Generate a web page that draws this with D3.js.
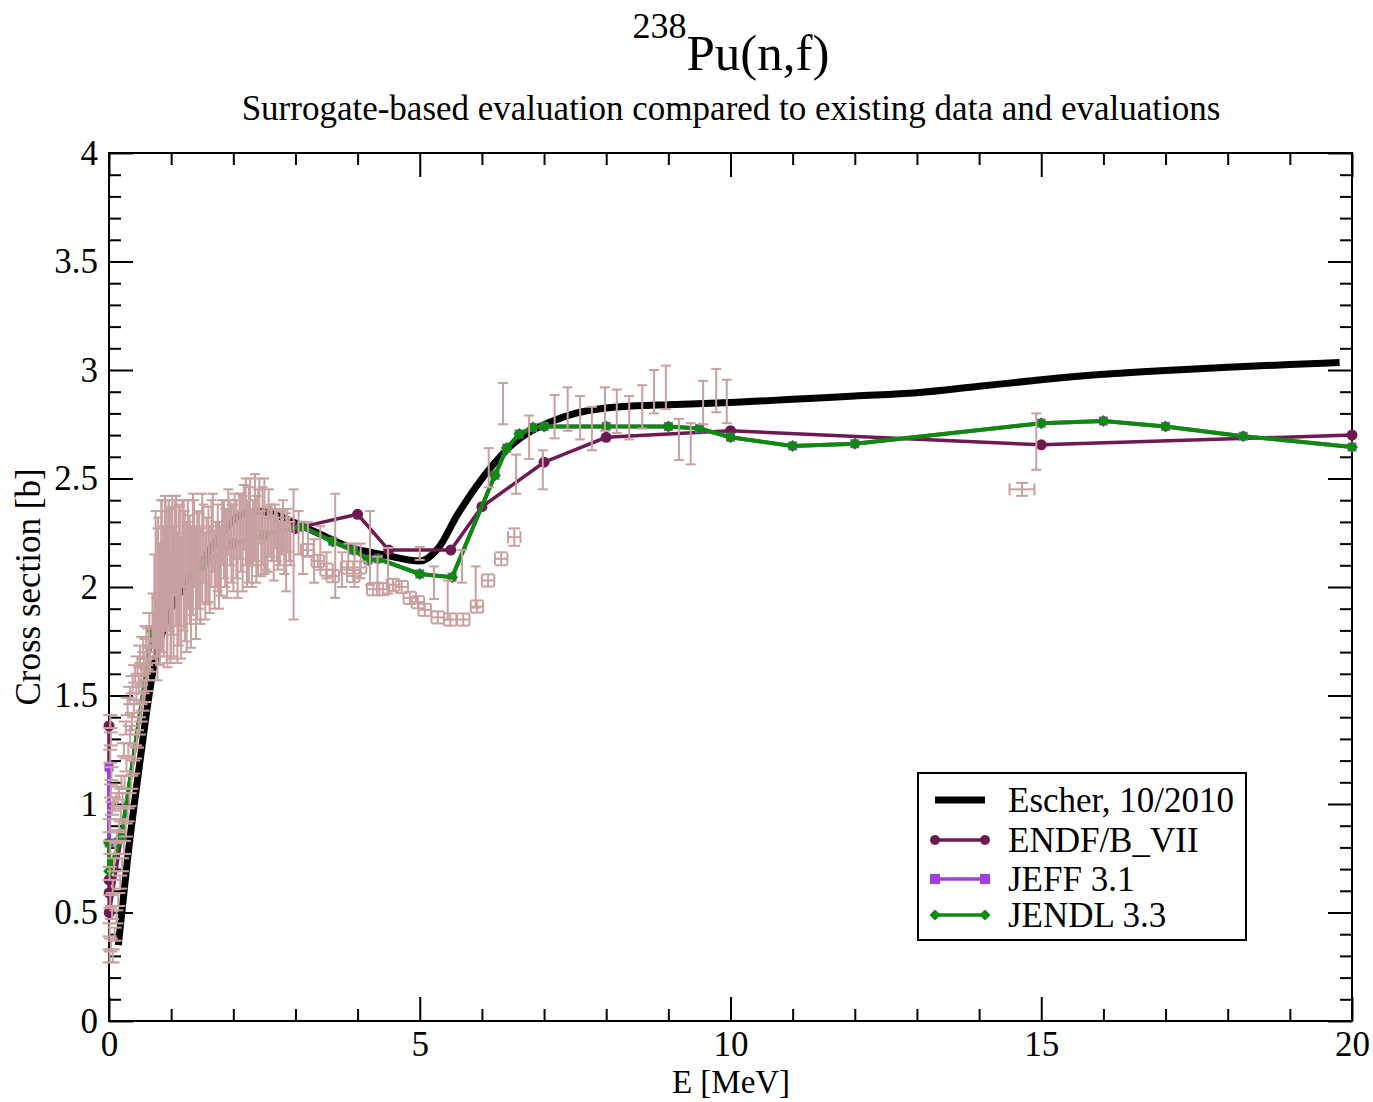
<!DOCTYPE html>
<html>
<head>
<meta charset="utf-8">
<script src="https://cdn.jsdelivr.net/npm/d3@7"></script>
<style>
  body { margin: 0; background: #fff; }
  text { font-family: "Liberation Serif", "Times New Roman", serif; fill: #000; }
</style>
</head>
<body>
<svg id="chart"></svg>
<script>
//Data
// Escher, 10/2010 surrogate evaluation
const escherE = [0.15, 0.3, 0.5, 0.7, 0.9, 1.2, 1.5, 1.8, 2.1, 2.4, 2.7, 3.0, 3.5, 3.9, 4.4, 5.0, 5.3, 5.6, 5.9, 6.2, 6.5, 6.8, 7.1, 7.5, 8.0, 8.5, 9.0, 10, 11, 12, 13, 14, 15, 16, 17, 18, 19, 19.8];
const escherXS = [0.35, 0.75, 1.2, 1.6, 1.83, 2.0, 2.12, 2.24, 2.33, 2.35, 2.33, 2.295, 2.23, 2.18, 2.15, 2.12, 2.18, 2.33, 2.46, 2.57, 2.66, 2.72, 2.76, 2.8, 2.825, 2.835, 2.84, 2.85, 2.865, 2.88, 2.895, 2.925, 2.955, 2.98, 2.998, 3.013, 3.025, 3.035];

// ENDF/B_VII
const endfE = [0, 0.001, 0.002, 0.005, 0.2, 0.7, 1.0, 1.5, 2.0, 2.5, 3.0, 4.0, 4.5, 5.5, 6.0, 7.0, 8.0, 10.0, 15.0, 20.0];
const endfXS = [1.36, 0.65, 0.59, 0.50, 0.85, 1.8, 2.0, 2.1, 2.2, 2.24, 2.27, 2.335, 2.17, 2.17, 2.37, 2.575, 2.69, 2.72, 2.655, 2.70];

// JEFF 3.1
const jeffE = [0, 0.002, 0.2, 0.7, 1.0, 1.5, 2.0, 2.5, 3.1, 3.6, 3.93, 4.17, 4.33, 5.0, 5.52, 6.21, 6.4, 6.6, 6.82, 7.0, 8.0, 9.0, 9.5, 10.0, 11.0, 12.0, 15.0, 16.0, 17.0, 18.25, 20.0];
const jeffXS = [1.17, 0.82, 0.85, 1.8, 2.0, 2.1, 2.2, 2.24, 2.28, 2.21, 2.17, 2.125, 2.13, 2.06, 2.045, 2.515, 2.64, 2.705, 2.735, 2.74, 2.74, 2.74, 2.73, 2.69, 2.65, 2.66, 2.755, 2.765, 2.74, 2.695, 2.645];

// JENDL 3.3
const jendlE = [0, 0.002, 0.2, 0.7, 1.0, 1.5, 2.0, 2.5, 3.1, 3.6, 3.93, 4.17, 4.33, 5.0, 5.52, 6.21, 6.4, 6.6, 6.82, 7.0, 8.0, 9.0, 9.5, 10.0, 11.0, 12.0, 15.0, 16.0, 17.0, 18.25, 20.0];
const jendlXS = [0.82, 0.69, 0.85, 1.8, 2.0, 2.1, 2.2, 2.24, 2.28, 2.21, 2.17, 2.125, 2.13, 2.06, 2.045, 2.515, 2.64, 2.705, 2.735, 2.74, 2.74, 2.74, 2.73, 2.69, 2.65, 2.66, 2.755, 2.765, 2.74, 2.695, 2.645];

// experimental data, low energy (y error only)
const lowE = [0.01, 0.01, 0.02, 0.01, 0.02, 0.01,
  0.02, 0.03, 0.02, 0.04, 0.03, 0.05, 0.08, 0.12, 0.16, 0.2, 0.24, 0.27, 0.3, 0.34, 0.38, 0.42, 0.46, 0.5, 0.55, 0.6, 0.65,
  0.03, 0.05, 0.06, 0.08, 0.1, 0.13, 0.16, 0.19, 0.22, 0.25, 0.28, 0.31, 0.34, 0.37, 0.4, 0.44, 0.48, 0.52, 0.56, 0.6, 0.64,
  0.06, 0.09, 0.12, 0.15, 0.18, 0.21, 0.24, 0.27, 0.3, 0.33, 0.36, 0.39, 0.42, 0.45, 0.48, 0.51, 0.54, 0.57, 0.6, 0.63, 0.66];
const lowXS = [0.3, 0.42, 0.55, 0.68, 0.8, 0.9,
  1.38, 1.3, 1.22, 1.14, 1.06, 0.98, 1.0, 1.02, 1.05, 1.1, 1.25, 1.35, 1.45, 1.5, 1.55, 1.6, 1.64, 1.68, 1.72, 1.76, 1.8,
  0.35, 0.5, 0.62, 0.72, 0.8, 0.85, 0.9, 0.95, 1.02, 1.1, 1.18, 1.25, 1.32, 1.38, 1.44, 1.5, 1.55, 1.6, 1.65, 1.7, 1.74,
  0.3, 0.4, 0.48, 0.56, 0.64, 0.72, 0.8, 0.88, 0.95, 1.02, 1.1, 1.17, 1.24, 1.3, 1.36, 1.42, 1.47, 1.52, 1.57, 1.62, 1.67];
const lowErr = [0.03, 0.03, 0.03, 0.03, 0.03, 0.03,
  0.03, 0.03, 0.03, 0.03, 0.03, 0.03, 0.03, 0.03, 0.03, 0.03, 0.03, 0.03, 0.04, 0.04, 0.04, 0.04, 0.04, 0.05, 0.05, 0.06, 0.08,
  0.03, 0.03, 0.03, 0.03, 0.03, 0.03, 0.03, 0.03, 0.03, 0.03, 0.03, 0.03, 0.04, 0.04, 0.04, 0.04, 0.04, 0.05, 0.05, 0.06, 0.07,
  0.03, 0.03, 0.03, 0.03, 0.03, 0.03, 0.03, 0.03, 0.03, 0.03, 0.03, 0.03, 0.03, 0.04, 0.04, 0.04, 0.04, 0.05, 0.05, 0.05, 0.06];

// experimental data, 0.7 - 4.3 MeV (y error only), first set
const expE = [0.70, 0.73, 0.76, 0.79, 0.82, 0.85, 0.88, 0.91, 0.94, 0.97, 1.00, 1.04, 1.08, 1.12, 1.16, 1.20,
  1.25, 1.30, 1.35, 1.40, 1.45, 1.50, 1.55, 1.60, 1.65, 1.70, 1.75, 1.80, 1.85, 1.90, 1.95, 2.00, 2.05, 2.10, 2.15, 2.20,
  2.25, 2.30, 2.35, 2.40, 2.45, 2.50, 2.55, 2.60, 2.65, 2.70, 2.75, 2.80, 2.85, 2.90,
  2.97, 3.05, 3.12, 3.20, 3.30, 3.40, 3.50, 3.64, 3.75, 3.85, 3.95, 4.05, 4.20, 4.32];
const expXS = [1.85, 1.95, 1.80, 2.02, 1.92, 2.05, 1.98, 2.10, 1.95, 2.08, 2.02, 1.98, 2.12, 2.05, 1.95, 2.10,
  2.00, 2.08, 2.15, 2.02, 2.12, 2.18, 2.05, 2.15, 2.20, 2.08, 2.18, 2.12, 2.22, 2.15, 2.25, 2.18, 2.22, 2.28, 2.20, 2.30,
  2.24, 2.18, 2.32, 2.25, 2.20, 2.28, 2.22, 2.26, 2.18, 2.24, 2.20, 2.28, 2.16, 2.22,
  2.15, 2.25, 2.18, 2.22, 2.12, 2.18, 2.10, 2.19, 2.08, 2.14, 2.10, 2.12, 2.18, 2.08];
const expErr = [0.12, 0.2, 0.15, 0.3, 0.28, 0.35, 0.3, 0.3, 0.32, 0.28, 0.35, 0.3, 0.3, 0.32, 0.28, 0.3,
  0.3, 0.25, 0.28, 0.26, 0.22, 0.25, 0.2, 0.22, 0.2, 0.18, 0.2, 0.16, 0.18, 0.2, 0.15, 0.2, 0.18, 0.15, 0.22, 0.2,
  0.22, 0.18, 0.2, 0.2, 0.15, 0.22, 0.15, 0.12, 0.15, 0.12, 0.1, 0.12, 0.18, 0.1,
  0.3, 0.1, 0.12, 0.08, 0.1, 0.1, 0.06, 0.24, 0.08, 0.06, 0.1, 0.08, 0.17, 0.06];

// experimental data, 0.7 - 3 MeV (y error only), second set
const exp2E = [0.72, 0.75, 0.78, 0.81, 0.84, 0.87, 0.90, 0.93, 0.96, 0.99, 1.02, 1.06, 1.10, 1.14, 1.18, 1.22, 1.27, 1.32, 1.37, 1.42,
  1.47, 1.52, 1.57, 1.62, 1.67, 1.72, 1.77, 1.82, 1.87, 1.92, 1.97, 2.02, 2.07, 2.12, 2.17, 2.22, 2.27, 2.32, 2.37, 2.42,
  2.47, 2.52, 2.57, 2.62, 2.67, 2.72, 2.77, 2.82, 2.87, 2.92];
const exp2XS = [1.78, 2.05, 1.92, 1.88, 2.1, 1.95, 2.12, 2.0, 2.15, 1.9, 2.1, 2.18, 1.95, 2.1, 2.2, 2.05, 2.15, 2.0, 2.2, 2.1,
  2.05, 2.2, 2.12, 2.08, 2.25, 2.15, 2.1, 2.25, 2.18, 2.3, 2.2, 2.28, 2.15, 2.25, 2.32, 2.2, 2.3, 2.25, 2.22, 2.35,
  2.28, 2.2, 2.3, 2.24, 2.28, 2.2, 2.25, 2.18, 2.26, 2.2];
const exp2Err = [0.1, 0.3, 0.35, 0.2, 0.3, 0.25, 0.3, 0.35, 0.25, 0.25, 0.32, 0.22, 0.3, 0.28, 0.2, 0.3, 0.25, 0.28, 0.2, 0.25,
  0.22, 0.18, 0.2, 0.2, 0.18, 0.15, 0.2, 0.15, 0.18, 0.15, 0.18, 0.15, 0.2, 0.18, 0.15, 0.2, 0.2, 0.15, 0.2, 0.15,
  0.18, 0.12, 0.15, 0.12, 0.1, 0.12, 0.1, 0.12, 0.1, 0.1];

// experimental data with x and y errors
const boxE = [3.19, 3.36, 3.50, 3.60, 3.83, 3.93, 4.04, 4.25, 4.41, 4.57, 4.71, 4.84, 4.97, 5.08, 5.29, 5.49, 5.70, 5.92, 6.10, 6.31, 6.52, 14.69];
const boxXS = [2.17, 2.12, 2.08, 2.05, 2.09, 2.05, 2.09, 1.99, 1.99, 2.01, 2.00, 1.95, 1.93, 1.895, 1.86, 1.85, 1.85, 1.91, 2.03, 2.13, 2.23, 2.45];
const boxErrE = [0.1, 0.1, 0.1, 0.1, 0.1, 0.1, 0.1, 0.1, 0.1, 0.1, 0.1, 0.1, 0.1, 0.1, 0.1, 0.1, 0.1, 0.1, 0.1, 0.1, 0.1, 0.2];
const boxErrXS = [0.028, 0.028, 0.028, 0.028, 0.028, 0.028, 0.028, 0.028, 0.028, 0.028, 0.028, 0.028, 0.028, 0.028, 0.028, 0.028, 0.028, 0.028, 0.028, 0.03, 0.04, 0.03];

// experimental data above 4.4 MeV (y error only)
const highE = [4.49, 5.00, 5.23, 5.45, 5.68, 5.90, 6.11, 6.34, 6.55, 6.76, 6.98, 7.17, 7.38, 7.58, 7.77, 7.98, 8.17, 8.37, 8.58, 8.77, 8.96, 9.17, 9.36, 9.56, 9.77, 9.94, 14.92];
const highXS = [2.075, 2.155, 2.02, 1.94, 2.095, 2.0, 2.55, 2.845, 2.52, 2.69, 2.54, 2.785, 2.82, 2.78, 2.73, 2.82, 2.81, 2.78, 2.83, 2.90, 2.92, 2.68, 2.66, 2.85, 2.905, 2.855, 2.67];
const highErr = [0.105, 0.03, 0.075, 0.09, 0.075, 0.095, 0.09, 0.095, 0.09, 0.1, 0.09, 0.1, 0.1, 0.1, 0.1, 0.1, 0.1, 0.1, 0.1, 0.1, 0.1, 0.095, 0.095, 0.1, 0.1, 0.1, 0.13];

const xMajor = [0, 5, 10, 15, 20];
const yMajor = [0, 0.5, 1, 1.5, 2, 2.5, 3, 3.5, 4];

//Visual
const width = 1373;
const height = 1102;
const plotLeft = 109, plotRight = 1352, plotTop = 153, plotBottom = 1021;
const pink = '#c9a0a0';
const endfColor = '#6e1a52';
const jeffColor = '#a040e0';
const jendlColor = '#0a8c0a';
const fontSize = 35;

const zip = (a, b) => d3.range(Math.min(a.length, b.length)).map(i => [a[i], b[i]]);

const svg = d3.select('#chart')
  .attr('width', width)
  .attr('height', height);

const x = d3.scaleLinear().domain([0, 20]).range([plotLeft, plotRight]);
const y = d3.scaleLinear().domain([0, 4]).range([plotBottom, plotTop]);

// axes, ticks pointing inward on all four sides
function styleAxis(g) {
  g.select('.domain').remove();
  g.selectAll('line').attr('stroke', '#000').attr('stroke-width', 2);
  g.selectAll('text').style('font-size', fontSize + 'px').style('font-family', '"Liberation Serif", serif');
}
const xMinor = d3.range(0, 21).filter(d => d % 5 !== 0);
const yMinor = d3.range(0, 41).map(d => d / 10).filter(d => Math.round(d * 10) % 5 !== 0);

svg.append('g').attr('transform', `translate(0,${plotBottom})`)
  .call(d3.axisBottom(x).tickValues(xMajor).tickSize(-24).tickPadding(10).tickFormat(d => d)).call(styleAxis);
svg.append('g').attr('transform', `translate(0,${plotBottom})`)
  .call(d3.axisBottom(x).tickValues(xMinor).tickSize(-12).tickFormat('')).call(styleAxis);
svg.append('g').attr('transform', `translate(0,${plotTop})`)
  .call(d3.axisTop(x).tickValues(xMajor).tickSize(-24).tickFormat('')).call(styleAxis);
svg.append('g').attr('transform', `translate(0,${plotTop})`)
  .call(d3.axisTop(x).tickValues(xMinor).tickSize(-12).tickFormat('')).call(styleAxis);
svg.append('g').attr('transform', `translate(${plotLeft},0)`)
  .call(d3.axisLeft(y).tickValues(yMajor).tickSize(-24).tickPadding(11).tickFormat(d => d)).call(styleAxis);
svg.append('g').attr('transform', `translate(${plotLeft},0)`)
  .call(d3.axisLeft(y).tickValues(yMinor).tickSize(-12).tickFormat('')).call(styleAxis);
svg.append('g').attr('transform', `translate(${plotRight},0)`)
  .call(d3.axisRight(y).tickValues(yMajor).tickSize(-24).tickFormat('')).call(styleAxis);
svg.append('g').attr('transform', `translate(${plotRight},0)`)
  .call(d3.axisRight(y).tickValues(yMinor).tickSize(-12).tickFormat('')).call(styleAxis);

svg.append('rect')
  .attr('x', plotLeft).attr('y', plotTop)
  .attr('width', plotRight - plotLeft).attr('height', plotBottom - plotTop)
  .attr('fill', 'none').attr('stroke', '#000').attr('stroke-width', 2);

// curves
const line = d3.line().x(d => x(d[0])).y(d => y(d[1]));
const smooth = d3.line().x(d => x(d[0])).y(d => y(d[1])).curve(d3.curveMonotoneX);

const escher = zip(escherE, escherXS);
const endf = zip(endfE, endfXS);
const jeff = zip(jeffE, jeffXS);
const jendl = zip(jendlE, jendlXS);

svg.append('path').datum(escher)
  .attr('d', smooth).attr('fill', 'none').attr('stroke', '#000').attr('stroke-width', 7);

svg.append('path').datum(endf)
  .attr('d', line).attr('fill', 'none').attr('stroke', endfColor).attr('stroke-width', 3.5);
svg.selectAll('circle.endf').data(endf).enter().append('circle')
  .attr('class', 'endf')
  .attr('cx', d => x(d[0])).attr('cy', d => y(d[1])).attr('r', 5.5)
  .attr('fill', endfColor);

svg.append('path').datum(jeff)
  .attr('d', line).attr('fill', 'none').attr('stroke', jeffColor).attr('stroke-width', 4);
svg.selectAll('rect.jeff').data(jeff).enter().append('rect')
  .attr('class', 'jeff')
  .attr('x', d => x(d[0]) - 4.5).attr('y', d => y(d[1]) - 4.5)
  .attr('width', 9).attr('height', 9).attr('fill', jeffColor);

svg.append('path').datum(jendl)
  .attr('d', line).attr('fill', 'none').attr('stroke', jendlColor).attr('stroke-width', 4);
svg.selectAll('path.jendl').data(jendl).enter().append('path')
  .attr('class', 'jendl')
  .attr('d', 'M0,-6L6,0L0,6L-6,0Z')
  .attr('transform', d => `translate(${x(d[0])},${y(d[1])})`)
  .attr('fill', jendlColor);

// experimental points with error bars
function errorBars(eArr, vArr, dyArr, dxArr, cap) {
  const g = svg.append('g').attr('stroke', pink).attr('stroke-width', 2).attr('fill', 'none');
  const pts = d3.range(eArr.length).map(i => ({
    e: eArr[i], v: vArr[i], dy: dyArr[i], dx: dxArr ? dxArr[i] : 0
  }));
  const sel = g.selectAll('g').data(pts).enter().append('g');
  sel.append('line')
    .attr('x1', d => x(d.e)).attr('x2', d => x(d.e))
    .attr('y1', d => y(d.v - d.dy)).attr('y2', d => y(d.v + d.dy));
  sel.append('line')
    .attr('x1', d => x(d.e) - cap).attr('x2', d => x(d.e) + cap)
    .attr('y1', d => y(d.v + d.dy)).attr('y2', d => y(d.v + d.dy));
  sel.append('line')
    .attr('x1', d => x(d.e) - cap).attr('x2', d => x(d.e) + cap)
    .attr('y1', d => y(d.v - d.dy)).attr('y2', d => y(d.v - d.dy));
  if (dxArr) {
    sel.append('line')
      .attr('x1', d => x(d.e - d.dx)).attr('x2', d => x(d.e + d.dx))
      .attr('y1', d => y(d.v)).attr('y2', d => y(d.v));
    sel.append('line')
      .attr('x1', d => x(d.e - d.dx)).attr('x2', d => x(d.e - d.dx))
      .attr('y1', d => y(d.v) - cap).attr('y2', d => y(d.v) + cap);
    sel.append('line')
      .attr('x1', d => x(d.e + d.dx)).attr('x2', d => x(d.e + d.dx))
      .attr('y1', d => y(d.v) - cap).attr('y2', d => y(d.v) + cap);
  }
}
errorBars(lowE, lowXS, lowErr, null, 7);
errorBars(expE, expXS, expErr, null, 5);
errorBars(exp2E, exp2XS, exp2Err, null, 5);
errorBars(boxE, boxXS, boxErrXS, boxErrE, 6);
errorBars(highE, highXS, highErr, null, 5);

// titles
const title = svg.append('text').attr('x', 731).attr('y', 70).attr('text-anchor', 'middle');
title.append('tspan').text('238').style('font-size', '36px').attr('dy', -32);
title.append('tspan').text('Pu(n,f)').style('font-size', '51px').attr('dy', 32);

svg.append('text').attr('x', 731).attr('y', 120).attr('text-anchor', 'middle')
  .style('font-size', '35px')
  .text('Surrogate-based evaluation compared to existing data and evaluations');

svg.append('text').attr('x', 731).attr('y', 1093).attr('text-anchor', 'middle')
  .style('font-size', '33px').text('E [MeV]');

svg.append('text').attr('transform', 'translate(40,587) rotate(-90)').attr('text-anchor', 'middle')
  .style('font-size', fontSize + 'px').text('Cross section [b]');

// legend
const legend = svg.append('g');
legend.append('rect')
  .attr('x', 918).attr('y', 773).attr('width', 328).attr('height', 167)
  .attr('fill', '#fff').attr('stroke', '#000').attr('stroke-width', 2);
const legendItems = [
  { label: 'Escher, 10/2010', color: '#000', width: 7, marker: null, y: 800 },
  { label: 'ENDF/B_VII', color: endfColor, width: 3.5, marker: 'circle', y: 840 },
  { label: 'JEFF 3.1', color: jeffColor, width: 3.5, marker: 'square', y: 879 },
  { label: 'JENDL 3.3', color: jendlColor, width: 3.5, marker: 'diamond', y: 915 }
];
legendItems.forEach(item => {
  legend.append('line')
    .attr('x1', 935).attr('x2', 985).attr('y1', item.y).attr('y2', item.y)
    .attr('stroke', item.color).attr('stroke-width', item.width);
  [935, 985].forEach(mx => {
    if (item.marker === 'circle') {
      legend.append('circle').attr('cx', mx).attr('cy', item.y).attr('r', 5).attr('fill', item.color);
    } else if (item.marker === 'square') {
      legend.append('rect').attr('x', mx - 5).attr('y', item.y - 5).attr('width', 10).attr('height', 10).attr('fill', item.color);
    } else if (item.marker === 'diamond') {
      legend.append('path').attr('d', 'M0,-5.5L5.5,0L0,5.5L-5.5,0Z')
        .attr('transform', `translate(${mx},${item.y})`).attr('fill', item.color);
    }
  });
  legend.append('text')
    .attr('x', 1008).attr('y', item.y + 12)
    .style('font-size', fontSize + 'px')
    .text(item.label);
});
</script>
</body>
</html>
